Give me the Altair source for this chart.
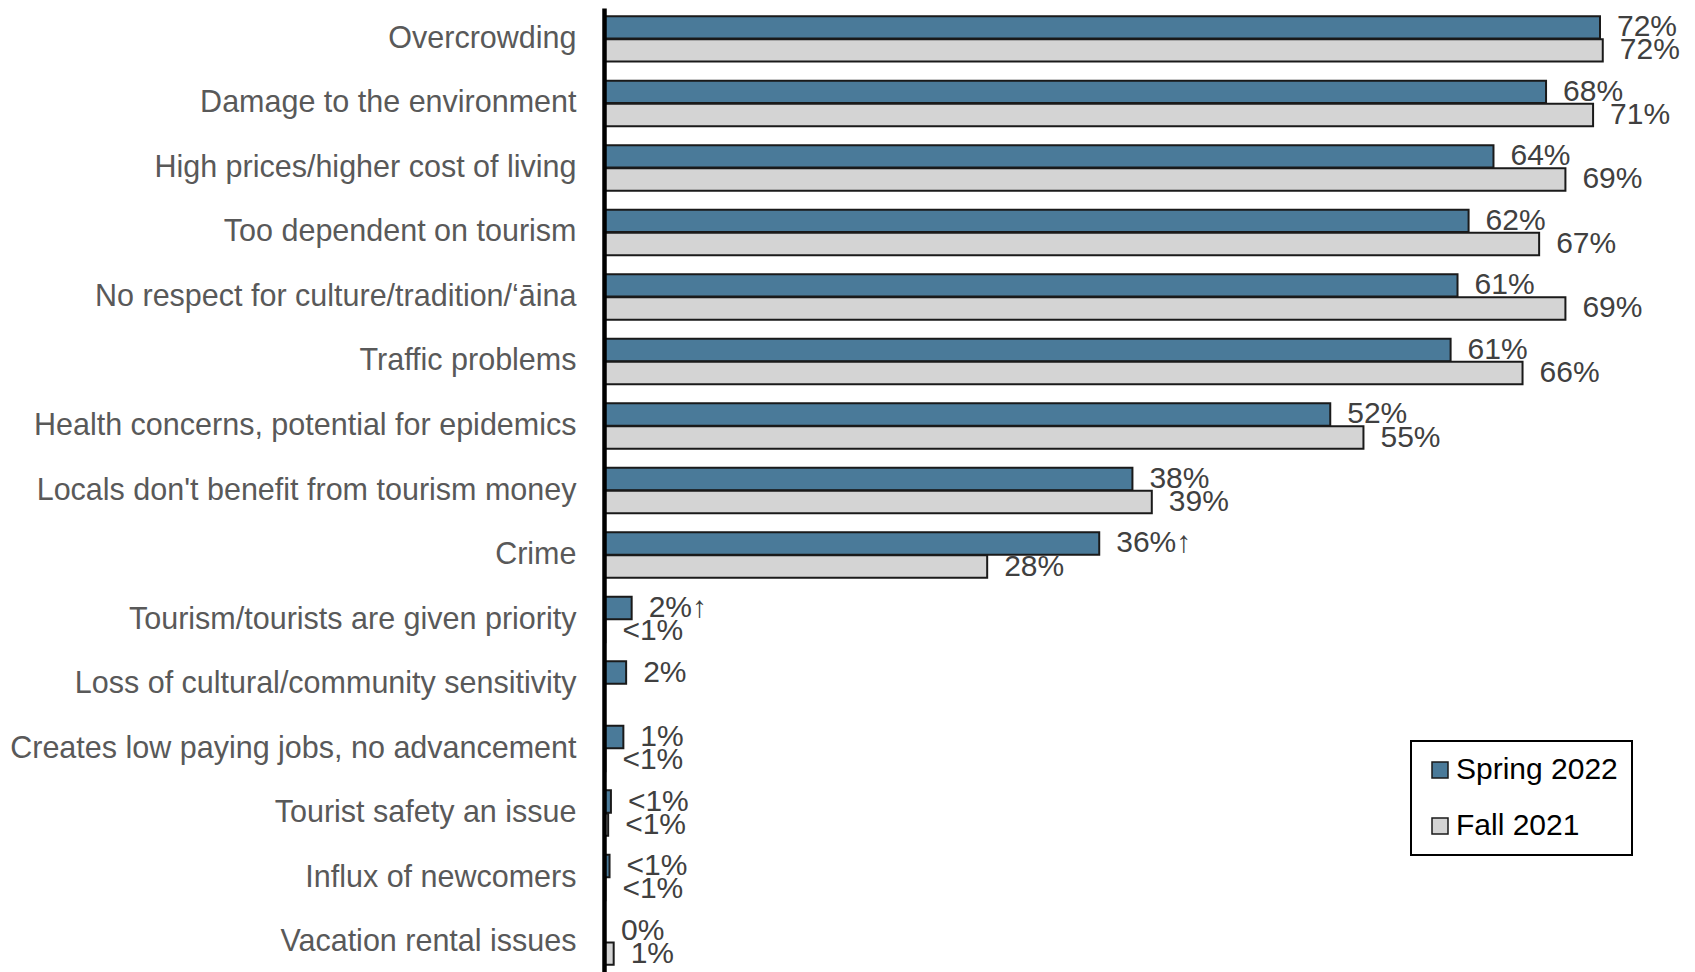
import altair as alt
import pandas as pd

categories = [
    "Overcrowding",
    "Damage to the environment",
    "High prices/higher cost of living",
    "Too dependent on tourism",
    "No respect for culture/tradition/\u2018\u0101ina",
    "Traffic problems",
    "Health concerns, potential for epidemics",
    "Locals don't benefit from tourism money",
    "Crime",
    "Tourism/tourists are given priority",
    "Loss of cultural/community sensitivity",
    "Creates low paying jobs, no advancement",
    "Tourist safety an issue",
    "Influx of newcomers",
    "Vacation rental issues",
]
series_names = ["Spring 2022", "Fall 2021"]
spring_values = [72.0, 68.1, 64.3, 62.5, 61.7, 61.2, 52.5, 38.2, 35.8, 2.0, 1.6, 1.4, 0.5, 0.4, 0.0]
fall_values = [72.2, 71.5, 69.5, 67.6, 69.5, 66.4, 54.9, 39.6, 27.7, 0.1, None, 0.1, 0.3, 0.1, 0.7]
spring_labels = ["72%", "68%", "64%", "62%", "61%", "61%", "52%", "38%", "36%\u2191", "2%\u2191", "2%", "1%", "<1%", "<1%", "0%"]
fall_labels = ["72%", "71%", "69%", "67%", "69%", "66%", "55%", "39%", "28%", "<1%", "", "<1%", "<1%", "<1%", "1%"]

rows = []
for i, c in enumerate(categories):
    rows.append({"category": c, "series": series_names[0], "value": spring_values[i], "label": spring_labels[i]})
    if fall_values[i] is not None:
        rows.append({"category": c, "series": series_names[1], "value": fall_values[i], "label": fall_labels[i]})
df = pd.DataFrame(rows)

FONT = "Liberation Sans"

y_enc = alt.Y("category:N", sort=categories,
              scale=alt.Scale(paddingInner=0.296, paddingOuter=0.127),
              axis=alt.Axis(title=None, ticks=False, zindex=2,
                            domainColor="black", domainWidth=4.5,
                            labelFontSize=30.5, labelColor="#595959", labelFont=FONT,
                            labelPadding=28, labelLimit=600))
yoff = alt.YOffset("series:N", sort=series_names, scale=alt.Scale(paddingInner=0.03, paddingOuter=0))
x_enc = alt.X("value:Q", scale=alt.Scale(domain=[0, 78]), axis=None)

bars = alt.Chart(df).mark_bar(stroke="#1a1a1a", strokeWidth=2).encode(
    x=x_enc,
    y=y_enc,
    yOffset=yoff,
    color=alt.Color("series:N", sort=series_names,
                    scale=alt.Scale(domain=series_names, range=["#4A7A99", "#D4D4D4"]),
                    legend=alt.Legend(title=None, orient="none", legendX=807, legendY=733,
                                      strokeColor="black", fillColor="white", padding=14,
                                      symbolType="square", symbolSize=256,
                                      symbolStrokeColor="#1a1a1a", symbolStrokeWidth=1.5,
                                      labelFontSize=30, labelColor="black", labelFont=FONT,
                                      labelLimit=400, rowPadding=26, labelOffset=1)),
)

texts = alt.Chart(df).mark_text(align="left", baseline="middle", dx=17, fontSize=30,
                                color="#404040", font=FONT).encode(
    x=x_enc,
    y=y_enc,
    yOffset=yoff,
    text="label:N",
)

chart = alt.layer(bars, texts).properties(
    width=1079, height=965,
    autosize=alt.AutoSizeParams(type="none"),
    padding={"left": 596, "top": 0, "right": 0, "bottom": 0},
).configure_view(stroke=None).configure_legend(strokeWidth=2).configure_axisY(
    domainColor="black", domainWidth=4.5
)

chart.save("out.html", embed_options={"renderer": "svg", "actions": False})
